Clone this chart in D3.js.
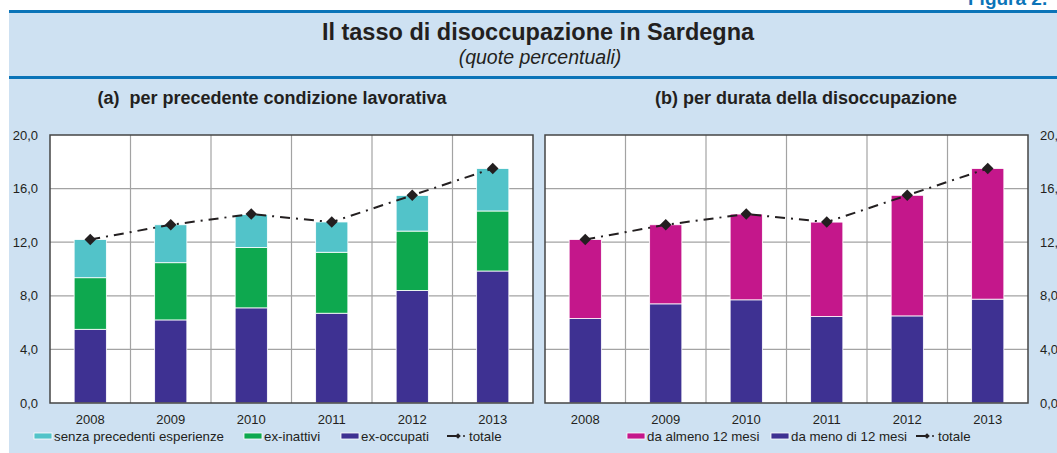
<!DOCTYPE html>
<html lang="it">
	<head>
		<meta charset="utf-8">
		<script src="https://d3js.org/d3.v7.min.js"></script>
		<style>
			body { margin: 0; background: #ffffff; }
			text { font-family: "Liberation Sans", Arial, sans-serif; fill: #231f20; }
		</style>
	</head>
	<body>
		<script type="text/javascript">

			// data
			var years = ["2008", "2009", "2010", "2011", "2012", "2013"];
			var yTicks = [0, 4, 8, 12, 16, 20];

			// (a) per precedente condizione lavorativa
			var exOccupati = [5.5, 6.2, 7.1, 6.7, 8.4, 9.85];
			var exInattivi = [3.85, 4.27, 4.5, 4.55, 4.43, 4.48];
			var senzaEsperienze = [2.85, 2.83, 2.46, 2.26, 2.66, 3.17];

			// (b) per durata della disoccupazione
			var menoDi12 = [6.3, 7.4, 7.7, 6.45, 6.5, 7.75];
			var almeno12 = [5.9, 5.9, 6.4, 7.05, 9.0, 9.75];

			var totale = [12.2, 13.3, 14.1, 13.5, 15.5, 17.5];

			var w = 1057;
			var h = 453;

			var colTeal = "#52c3c9";
			var colGreen = "#0ea84f";
			var colPurple = "#3e3192";
			var colMagenta = "#c4178b";
			var colBlue = "#0b74b8";

			var svg = d3.select("body")
						.append("svg")
						.attr("width", w)
						.attr("height", h);

			// panel background and rules
			svg.append("rect")
				.attr("x", 9).attr("y", 12)
				.attr("width", w - 9).attr("height", h - 12)
				.style("fill", "#cee1f2");

			svg.append("rect").attr("x", 9).attr("y", 10).attr("width", w - 9).attr("height", 3).style("fill", colBlue);
			svg.append("rect").attr("x", 9).attr("y", 76).attr("width", w - 9).attr("height", 3).style("fill", colBlue);

			svg.append("text")
				.attr("x", 968).attr("y", 5)
				.style("font-size", "19px").style("font-weight", "bold")
				.style("fill", colBlue)
				.text("Figura 2.");

			svg.append("text")
				.attr("x", 538).attr("y", 40)
				.attr("text-anchor", "middle")
				.style("font-size", "23.5px").style("font-weight", "bold")
				.text("Il tasso di disoccupazione in Sardegna");

			svg.append("text")
				.attr("x", 540).attr("y", 64)
				.attr("text-anchor", "middle")
				.style("font-size", "19.5px").style("font-style", "italic")
				.text("(quote percentuali)");

			var y = d3.scaleLinear().domain([0, 20]).range([403, 135]);

			function drawPanel(x0, x1, title, titleX, series, colors) {
				var g = svg.append("g");
				var x = d3.scaleBand().domain(years).range([x0, x1]).paddingInner(0).paddingOuter(0);

				g.append("rect")
					.attr("x", x0).attr("y", y(20))
					.attr("width", x1 - x0).attr("height", y(0) - y(20))
					.style("fill", "#ffffff");

				// horizontal grid
				g.selectAll(".hg")
					.data(yTicks.slice(1, -1))
					.enter().append("line")
					.attr("x1", x0).attr("x2", x1)
					.attr("y1", function(d) { return y(d); })
					.attr("y2", function(d) { return y(d); })
					.style("stroke", "#a3a3a3").style("stroke-width", 1.2);

				// vertical grid
				g.selectAll(".vg")
					.data(years.slice(1))
					.enter().append("line")
					.attr("x1", function(d) { return x(d); })
					.attr("x2", function(d) { return x(d); })
					.attr("y1", y(20)).attr("y2", y(0))
					.style("stroke", "#a3a3a3").style("stroke-width", 1.2);

				// stacked bars
				var stack = d3.stack().keys(d3.range(series.length));
				var rows = years.map(function(yr, i) {
					var r = {};
					series.forEach(function(s, k) { r[k] = s[i]; });
					return r;
				});
				var layers = stack(rows);
				var bw = x.bandwidth() * 0.4;

				layers.forEach(function(layer, k) {
					g.selectAll(".bar" + k)
						.data(layer)
						.enter().append("rect")
						.attr("x", function(d, i) { return x(years[i]) + (x.bandwidth() - bw) / 2; })
						.attr("y", function(d) { return y(d[1]); })
						.attr("width", bw)
						.attr("height", function(d) { return y(d[0]) - y(d[1]); })
						.style("fill", colors[k])
						.style("stroke", "#ffffff")
						.style("stroke-width", 0.8);
				});

				// totale line
				var line = d3.line()
					.x(function(d, i) { return x(years[i]) + x.bandwidth() / 2; })
					.y(function(d) { return y(d); });

				g.append("path")
					.datum(totale)
					.attr("d", line)
					.style("fill", "none")
					.style("stroke", "#231f20")
					.style("stroke-width", 2)
					.style("stroke-dasharray", "10,6,2,6");

				g.selectAll(".mk")
					.data(totale)
					.enter().append("path")
					.attr("d", d3.symbol().type(d3.symbolDiamond2).size(85))
					.attr("transform", function(d, i) {
						return "translate(" + (x(years[i]) + x.bandwidth() / 2) + "," + y(d) + ")";
					})
					.style("fill", "#231f20");

				// frame
				g.append("rect")
					.attr("x", x0).attr("y", y(20))
					.attr("width", x1 - x0).attr("height", y(0) - y(20))
					.style("fill", "none")
					.style("stroke", "#454545")
					.style("stroke-width", 1.5);

				// year labels
				g.selectAll(".yl")
					.data(years)
					.enter().append("text")
					.attr("x", function(d) { return x(d) + x.bandwidth() / 2; })
					.attr("y", 424)
					.attr("text-anchor", "middle")
					.style("font-size", "13px")
					.text(function(d) { return d; });

				svg.append("text")
					.attr("x", titleX).attr("y", 104)
					.attr("text-anchor", "middle")
					.style("font-size", "18px").style("font-weight", "bold")
					.style("white-space", "pre")
					.text(title);
			}

			drawPanel(50, 533, "(a)  per precedente condizione lavorativa", 272,
				[exOccupati, exInattivi, senzaEsperienze], [colPurple, colGreen, colTeal]);
			drawPanel(545, 1028, "(b) per durata della disoccupazione", 806,
				[menoDi12, almeno12], [colPurple, colMagenta]);

			// y axis labels
			var fmt = function(d) { return d3.format(".1f")(d).replace(".", ","); };

			svg.selectAll(".tl")
				.data(yTicks)
				.enter().append("text")
				.attr("x", 38)
				.attr("y", function(d) { return y(d); })
				.attr("dy", "0.35em")
				.attr("text-anchor", "end")
				.style("font-size", "13px")
				.text(fmt);

			svg.selectAll(".tr")
				.data(yTicks)
				.enter().append("text")
				.attr("x", 1040)
				.attr("y", function(d) { return y(d); })
				.attr("dy", "0.35em")
				.style("font-size", "13px")
				.text(fmt);

			// legends
			function legendBox(x0, col, label) {
				svg.append("rect")
					.attr("x", x0).attr("y", 433)
					.attr("width", 18).attr("height", 6)
					.style("fill", col)
					.style("stroke", "#ffffff").style("stroke-width", 0.8);
				svg.append("text")
					.attr("x", x0 + 20).attr("y", 441)
					.style("font-size", "13.3px")
					.text(label);
			}

			function legendLine(x0, label) {
				svg.append("line")
					.attr("x1", x0).attr("x2", x0 + 9)
					.attr("y1", 436).attr("y2", 436)
					.style("stroke", "#231f20").style("stroke-width", 2);
				svg.append("path")
					.attr("d", d3.symbol().type(d3.symbolDiamond2).size(20))
					.attr("transform", "translate(" + (x0 + 11) + ",436)")
					.style("fill", "#231f20");
				svg.append("circle")
					.attr("cx", x0 + 17).attr("cy", 436).attr("r", 1)
					.style("fill", "#231f20");
				svg.append("text")
					.attr("x", x0 + 22).attr("y", 441)
					.style("font-size", "13.3px")
					.text(label);
			}

			legendBox(34, colTeal, "senza precedenti esperienze");
			legendBox(244, colGreen, "ex-inattivi");
			legendBox(341, colPurple, "ex-occupati");
			legendLine(447, "totale");

			legendBox(627, colMagenta, "da almeno 12 mesi");
			legendBox(771, colPurple, "da meno di 12 mesi");
			legendLine(916, "totale");

		</script>
	</body>
</html>
